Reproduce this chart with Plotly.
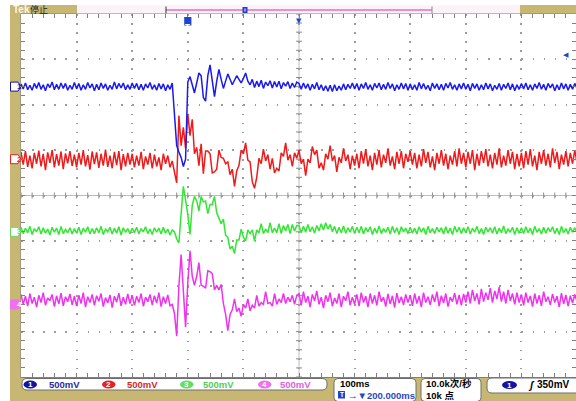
import plotly.graph_objects as go

W, H = 576, 401

# ---- acquisition / scope settings ----
T_START_MS = -300          # left edge of the record (trigger at 0, position 200 ms)
SAMPLE_MS = 4              # spacing of the read-off samples
TIME_PER_DIV_MS = 100
MV_PER_DIV = 500
TRIGGER_LEVEL_MV = 350
ch_names = ["1", "2", "3", "4"]
ch_position_div = [2.4, 0.8, -0.8, -2.4]
ch_colors = ["#1a1af0", "#f01a1a", "#33e633", "#f032f0"]
ch_badge_colors = ["#1414a0", "#e82020", "#5ee05e", "#f070f0"]
ch_text_colors = ["#2a2aa0", "#d82828", "#55cc55", "#e060e0"]
ch_scale_labels = ["500mV", "500mV", "500mV", "500mV"]
horiz_label = "100ms"
pos_label = "\u2192\u25bc200.000ms"
rate_label = "10.0k次/秒"
length_label = "10k 点"
trig_label = "350mV"
status_label = "停止"

# ---- channel signals, mV relative to each channel's ground ----
ch1_mv = [
    30, -25, 40, -35, 15, -40, 35, -20, 45, -30, 20, -45, 30, -10, 50, -35, 25, -30, 40, -20, 35, -40, 15, -30, 45,
    -25, 35, -40, 20, -30, 45, -15, 30, -45, 25, -35, 40, -20, 30, -40, 15, -30, 50, -25, 35, -15, 40, -35, 20, -30,
    40, -20, 35, -35, 25, -40, 30, -15, 45, -30, 20, -40, 35, -25, 30, -45, 20, -30, 40, -300, -650, -720, -780, -880, -800,
    50, 110, 20, -70, 40, 150, 120, -120, -160, 120, 240, 60, -110, 60, 190, 80, -20, 60, 140, 80, 20, 70, 120, 80, 40,
    90, 150, 60, 20, 80, -10, 60, 0, 70, -20, 50, 10, 65, -15, 55, -5, 60, -25, 45, 5, 55, -20, 40, -10, 50,
    35, -30, 40, -20, 30, -40, 25, -25, 45, -35, 20, -45, 10, -50, 15, -55, 20, -45, 5, -40, 30, -35, 25, -20, 40,
    -25, 35, -40, 30, -20, 45, -30, 20, -40, 35, -15, 40, -35, 25, -30, 45, -20, 30, -45, 20, -30, 40, -25, 35, -40,
    30, -35, 20, -40, 45, -25, 35, -30, 15, -45, 40, -20, 30, -35, 25, -40, 35, -15, 45, -30, 20, -40, 30, -25, 40,
    -30, 25, -45, 35, -20, 30, -40, 20, -35, 40, -25, 30, -45, 15, -30, 35, -40, 25, -20, 40, -35, 30, -45, 20, -30,
    35, -25, 40, -35, 20, -40, 30, -20, 45, -30, 25, -40, 35, -15, 30, -45, 20, -35, 40, -25, 30, -40, 25, -30, 35,
    -20,
]
ch2_mv = [
    80, -60, 90, -85, 40, -100, 70, -50, 95, -80, 60, -120, 75, -40, 100, -90, 55, -70, 85, -110, 65, -45, 90, -75, 50,
    -90, 70, -60, 100, -80, 45, -115, 85, -55, 75, -95, 60, -70, 105, -85, 40, -100, 80, -65, 90, -120, 55, -80, 70, -60,
    60, -90, 40, -70, 80, -110, 30, -60, 70, -100, 50, -80, 20, -120, 60, -50, 40, -90, -20, -140, -260, 480, 150, 350, 120,
    500, 260, 440, 60, 130, -70, 170, -160, 90, 90, 60, -150, -140, -110, 100, 20, 10, -50, -30, -170, -110, -300, -130, -70, 100,
    60, 180, -10, -30, -250, -320, -200, 10, -50, 110, -20, 50, -110, 10, -150, -100, -130, 70, 30, 180, -10, 50, -80, 70, 10,
    100, -50, 0, -180, 0, -40, 140, 50, 100, -100, -40, -120, 60, 0, 150, -20, 40, -140, 20, -40, 120, -20, 50, -110, 40,
    -70, 60, -100, 90, -50, 110, -80, 40, -120, 70, -60, 100, -90, 50, -40, 120, -70, 30, -110, 80, -50, 90, -100, 60, -30,
    90, -60, 70, -100, 50, -80, 110, -40, 80, -90, 30, -120, 70, -50, 100, -70, 60, -110, 40, -60, 90, -80, 120, -50, 70,
    -90, 80, -50, 100, -120, 60, -70, 90, -40, 110, -80, 50, -100, 70, -60, 120, -90, 40, -70, 100, -50, 80, -110, 60, -80,
    70, -100, 90, -60, 110, -80, 40, -120, 80, -50, 100, -70, 60, -90, 120, -40, 80, -110, 50, -60, 90, -80, 70, -50, 100,
    -40,
]
ch3_mv = [
    50, -20, 40, -10, 60, -30, 35, 0, 55, -25, 45, -15, 30, -35, 50, -5, 40, -30, 60, -20, 25, -10, 45, -25, 35,
    -15, 50, -30, 40, -5, 55, -25, 35, -20, 45, -10, 60, -30, 30, 0, 50, -25, 40, -15, 55, -35, 45, -5, 35, -20,
    40, -10, 50, -25, 35, 0, 55, -20, 30, -30, 45, -5, 40, -25, 50, -15, 30, -35, 20, 0, -80, -120, 200, 500, 350,
    190, -30, 290, 390, 340, 230, 390, 330, 340, 200, 300, 300, 390, 210, 150, 90, 140, -40, -60, -190, -160, -240, -90, -90, 30,
    -60, -100, 20, -20, 20, -100, 20, -10, 90, -20, 30, -10, 100, -10, 40, -10, 90, -20, 70, 10, 80, -20, 80, 10, 70,
    70, -10, 60, -5, 80, 0, 55, -15, 70, 10, 90, 20, 100, 30, 80, 0, 60, -20, 50, -10, 65, -15, 45, -5, 60,
    -20, 50, -10, 60, -25, 45, 0, 55, -30, 40, -15, 65, -20, 35, -5, 50, -25, 60, -10, 45, -30, 55, 0, 40, -20,
    50, -15, 40, -25, 55, -5, 45, -30, 60, -10, 35, -20, 50, 0, 45, -25, 55, -15, 40, -30, 60, -5, 50, -20, 45,
    -10, 55, -25, 40, -5, 60, -20, 35, -30, 50, 0, 45, -15, 55, -25, 40, -10, 65, -20, 30, -5, 50, -30, 45, -15,
    45, -20, 55, -10, 40, -30, 60, -5, 35, -25, 50, -15, 45, 0, 55, -20, 40, -30, 60, -10, 35, -25, 50, -5, 45,
    -10,
]
ch4_mv = [
    110, 0, 90, -20, 120, 10, 80, -30, 100, 20, 130, -10, 70, 40, 110, -25, 95, 5, 125, -15, 85, 30, 115, -5, 90,
    -20, 100, 10, 130, -30, 85, 20, 110, -10, 95, 35, 120, -25, 75, 15, 105, -35, 90, 25, 125, -15, 80, 0, 115, 10,
    100, -10, 90, 20, 120, -20, 80, 30, 110, -5, 95, 15, 130, -25, 85, 10, 105, -15, 0, -100, -350, 200, 550, 100, -250,
    240, 590, 310, 210, 310, 460, 210, 200, 180, 370, 360, 340, 160, 210, 160, 220, 10, -110, -290, -110, -60, 60, -80, -40, -130,
    0, -40, 60, -70, -10, -40, 100, -20, 20, 0, 140, 10, 20, -20, 120, 0, 60, 20, 120, 10, 80, 30, 100, 0, 100,
    120, -10, 140, 20, 90, -30, 110, 40, 150, 0, 80, -40, 100, 30, 130, -20, 70, 10, 120, -30, 90, 40, 140, -10, 80,
    0, 110, -20, 130, 20, 90, -30, 120, 10, 100, -10, 140, 30, 80, -25, 115, 5, 95, -35, 125, 15, 85, -5, 110, 20,
    100, -15, 120, 10, 90, -30, 130, 20, 85, -5, 110, 25, 140, -20, 95, 15, 120, -25, 80, 30, 125, 0, 105, -10, 115,
    20, 140, 10, 160, 40, 120, 0, 170, 30, 130, 50, 180, 20, 150, 60, 190, 30, 140, 10, 160, 40, 120, 0, 130, 20,
    110, -10, 130, 20, 95, -25, 120, 10, 100, -15, 140, 30, 85, -5, 115, 20, 90, -30, 125, 5, 105, -20, 95, 15, 110,
    30,
]
channels = [ch1_mv, ch2_mv, ch3_mv, ch4_mv]

# ---- geometry of the screen (pixels) ----
GRID_L, GRID_T, GRID_B = 21, 14, 377
PX_PER_DIV_X = 55.6
KHAKI = "#c8b673"
GRIDC = "#9c9c9c"
EDGEC = "#808080"
FONT = "Liberation Sans, Noto Sans CJK SC, sans-serif"


def PX(x):
    return x / W


def PY(y):
    return 1 - y / H


x_range = [T_START_MS, T_START_MS + (W - GRID_L) / PX_PER_DIV_X * TIME_PER_DIV_MS]
y_range = [-4 * MV_PER_DIV, 4 * MV_PER_DIV]

fig = go.Figure()
for i in [3, 2, 1, 0]:
    vals = channels[i]
    t = [T_START_MS + SAMPLE_MS * k for k in range(len(vals))]
    y = [v + ch_position_div[i] * MV_PER_DIV for v in vals]
    fig.add_trace(go.Scatter(x=t, y=y, mode="lines", line=dict(color=ch_colors[i], width=1.5),
                             hoverinfo="skip", showlegend=False))

shapes = []
annotations = []

# centre graticule lines with tick marks
x_left = T_START_MS
x_right = T_START_MS + 10 * TIME_PER_DIV_MS
x_center = T_START_MS + 5 * TIME_PER_DIV_MS
shapes.append(dict(type="line", xref="x", yref="y", x0=x_left, x1=x_right, y0=0, y1=0,
                   line=dict(color="#bdbdbd", width=1), layer="below"))
shapes.append(dict(type="line", xref="x", yref="y", x0=x_center, x1=x_center, y0=y_range[0], y1=y_range[1],
                   line=dict(color="#bdbdbd", width=1), layer="below"))
mv_per_px = 2 * y_range[1] / (GRID_B - GRID_T)
ms_per_px = TIME_PER_DIV_MS / PX_PER_DIV_X
path_h = ""
for k in range(51):
    tx = x_left + k * TIME_PER_DIV_MS / 5
    path_h += f"M{tx},{-3*mv_per_px} L{tx},{3*mv_per_px} "
path_v = ""
for k in range(41):
    vy = y_range[0] + k * MV_PER_DIV / 5
    path_v += f"M{x_center-3*ms_per_px},{vy} L{x_center+3*ms_per_px},{vy} "
for p in (path_h, path_v):
    shapes.append(dict(type="path", xref="x", yref="y", path=p, line=dict(color="#8c8c8c", width=1), layer="below"))


def rect_px(x0, y0, x1, y1, fill, line=None, lw=0):
    shapes.append(dict(type="rect", xref="paper", yref="paper", x0=PX(x0), x1=PX(x1), y0=PY(y1), y1=PY(y0),
                       fillcolor=fill, line=dict(color=line or fill, width=lw), layer="above"))


def rrect_px(x0, y0, x1, y1, r, fill="white", line="#6e6e6e", lw=1):
    pts = [("M", x0 + r, y0), ("L", x1 - r, y0), ("Q", x1, y0, x1, y0 + r), ("L", x1, y1 - r),
           ("Q", x1, y1, x1 - r, y1), ("L", x0 + r, y1), ("Q", x0, y1, x0, y1 - r), ("L", x0, y0 + r),
           ("Q", x0, y0, x0 + r, y0)]
    s = ""
    for p in pts:
        if p[0] == "Q":
            s += f"Q{PX(p[1])},{PY(p[2])} {PX(p[3])},{PY(p[4])} "
        else:
            s += f"{p[0]}{PX(p[1])},{PY(p[2])} "
    s += "Z"
    shapes.append(dict(type="path", xref="paper", yref="paper", path=s, fillcolor=fill,
                       line=dict(color=line, width=lw), layer="above"))


def ellipse_px(x0, y0, x1, y1, fill):
    shapes.append(dict(type="circle", xref="paper", yref="paper", x0=PX(x0), x1=PX(x1), y0=PY(y1), y1=PY(y0),
                       fillcolor=fill, line=dict(color=fill, width=0), layer="above"))


def text_px(x, y, s, color="black", size=9.5, anchor="left", bold=True, family=FONT):
    annotations.append(dict(x=PX(x), y=PY(y), xref="paper", yref="paper", text=f"<b>{s}</b>" if bold else s,
                            showarrow=False, xanchor=anchor, yanchor="middle",
                            font=dict(family=family, size=size, color=color)))


# frame: left strip, top bar, bottom bar
rect_px(10, 5, 20.5, H, KHAKI)
rect_px(10, 378, W, H, KHAKI)
rect_px(10, 5, 77, 13.5, KHAKI)
rect_px(77, 5, 520, 13.5, "#fcf2f8")
rect_px(520, 5, W, 13.5, KHAKI)
text_px(11, 9.3, "Tek", color="#fbf6e6", size=10)
text_px(28, 9.3, status_label, color="#222222", size=9, bold=False, family="Noto Sans CJK SC")
# record view bar
shapes.append(dict(type="line", xref="paper", yref="paper", x0=PX(166), x1=PX(432), y0=PY(10), y1=PY(10),
                   line=dict(color="#e070c8", width=1.5), layer="above"))
for xx, cc in ((166, "#333333"), (432, "#888888")):
    shapes.append(dict(type="line", xref="paper", yref="paper", x0=PX(xx), x1=PX(xx), y0=PY(6.5), y1=PY(13.5),
                       line=dict(color=cc, width=1), layer="above"))
rect_px(242.5, 7, 247.5, 13, "#2040c8")
rect_px(244.5, 8.5, 245.5, 11.5, "#ffffff")

# trigger-time badge and horizontal-position marker
shapes.append(dict(type="rect", xref="x", yref="paper", x0=-3.6 * ms_per_px, x1=3.6 * ms_per_px,
                   y0=PY(25.5), y1=PY(17), fillcolor="#1e44d0", line=dict(color="#1e44d0", width=0), layer="above"))
annotations.append(dict(x=0, y=PY(21.3), xref="x", yref="paper", text="<b>T</b>", showarrow=False,
                        font=dict(family="DejaVu Sans", size=7, color="white")))
annotations.append(dict(x=x_center, y=PY(15.5), xref="x", yref="paper", text="\u25bc", showarrow=False,
                        font=dict(family="DejaVu Sans", size=7, color="#1e44d0")))
# trigger level marker on the right edge
annotations.append(dict(x=PX(571), y=ch_position_div[0] * MV_PER_DIV + TRIGGER_LEVEL_MV, xref="paper", yref="y",
                        text="\u25c0", showarrow=False, font=dict(family="DejaVu Sans", size=7, color="#1e44d0")))

# channel ground tags on the left
half = 4.5 * mv_per_px
for i in range(4):
    gy = ch_position_div[i] * MV_PER_DIV
    fill = ch_badge_colors[i] if i == 3 else "white"
    p = (f"M{PX(10.5)},{gy+half} L{PX(18)},{gy+half} L{PX(21)},{gy} L{PX(18)},{gy-half} "
         f"L{PX(10.5)},{gy-half} Z")
    shapes.append(dict(type="path", xref="paper", yref="y", path=p, fillcolor=fill,
                       line=dict(color=ch_badge_colors[i], width=1), layer="above"))
    annotations.append(dict(x=PX(14.8), y=gy, xref="paper", yref="y", text=f"<b>{ch_names[i]}</b>", showarrow=False,
                            font=dict(family=FONT, size=8, color="white" if i == 3 else ch_badge_colors[i])))

# bottom status boxes
rrect_px(22, 378.5, 327, 390, 5)
badge_x = [23.5, 102, 180, 258]
label_x = [47, 125, 201, 278]
for i in range(4):
    ellipse_px(badge_x[i], 380.5, badge_x[i] + 13.5, 388.5, ch_badge_colors[i])
    text_px(badge_x[i] + 6.75, 384.6, ch_names[i], color="white", size=8, anchor="center")
    text_px(label_x[i], 384.4, ch_scale_labels[i], color=ch_text_colors[i], size=9.5)

rrect_px(334, 378.5, 416, 401.5, 4)
text_px(338, 383.8, horiz_label, size=9.5)
rect_px(338, 391, 345, 398.5, "#1e44d0")
text_px(341.5, 394.9, "T", color="white", size=6.5, anchor="center")
text_px(345.5, 395.0, pos_label, color="#2a48c0", size=9.5)

rrect_px(421, 378.5, 481, 401.5, 4)
text_px(424, 383.8, rate_label, size=9.5)
text_px(424, 395.0, length_label, size=9.5)

rrect_px(487, 378, 584, 393, 5)
ellipse_px(502, 381, 517, 389, "#1414a0")
text_px(509.5, 385.1, ch_names[0], color="white", size=8, anchor="center")
text_px(526, 385, "<i>\u0283</i>", size=10)
text_px(535, 384.8, trig_label, size=10)

fig.update_layout(
    width=W, height=H, autosize=False, margin=dict(l=0, r=0, t=0, b=0),
    paper_bgcolor="white", plot_bgcolor="white", showlegend=False,
    shapes=shapes, annotations=annotations,
    xaxis=dict(domain=[GRID_L / W, 1], range=x_range, showgrid=True, gridcolor=GRIDC, gridwidth=1.5,
               griddash="1.5px,7.575px", tick0=T_START_MS, dtick=TIME_PER_DIV_MS, zeroline=False,
               showline=True, linecolor=EDGEC, linewidth=1, mirror="ticks", ticks="inside", ticklen=4,
               tickcolor=EDGEC, showticklabels=False, fixedrange=True,
               minor=dict(ticks="inside", ticklen=4, tickcolor=EDGEC, dtick=TIME_PER_DIV_MS / 5,
                          tick0=T_START_MS, showgrid=False)),
    yaxis=dict(domain=[(H - GRID_B) / H, (H - GRID_T) / H], range=y_range, showgrid=True, gridcolor=GRIDC,
               gridwidth=1.5, griddash="1.5px,9.62px", tick0=0, dtick=MV_PER_DIV, zeroline=False,
               showline=True, linecolor=EDGEC, linewidth=1, mirror="ticks", ticks="inside", ticklen=4,
               tickcolor=EDGEC, showticklabels=False, fixedrange=True,
               minor=dict(ticks="inside", ticklen=4, tickcolor=EDGEC, dtick=MV_PER_DIV / 5, tick0=0,
                          showgrid=False)),
)

fig.write_html("out.html", config={"displayModeBar": False},
               post_script="document.body.style.margin='0';document.body.style.overflow='hidden';")
